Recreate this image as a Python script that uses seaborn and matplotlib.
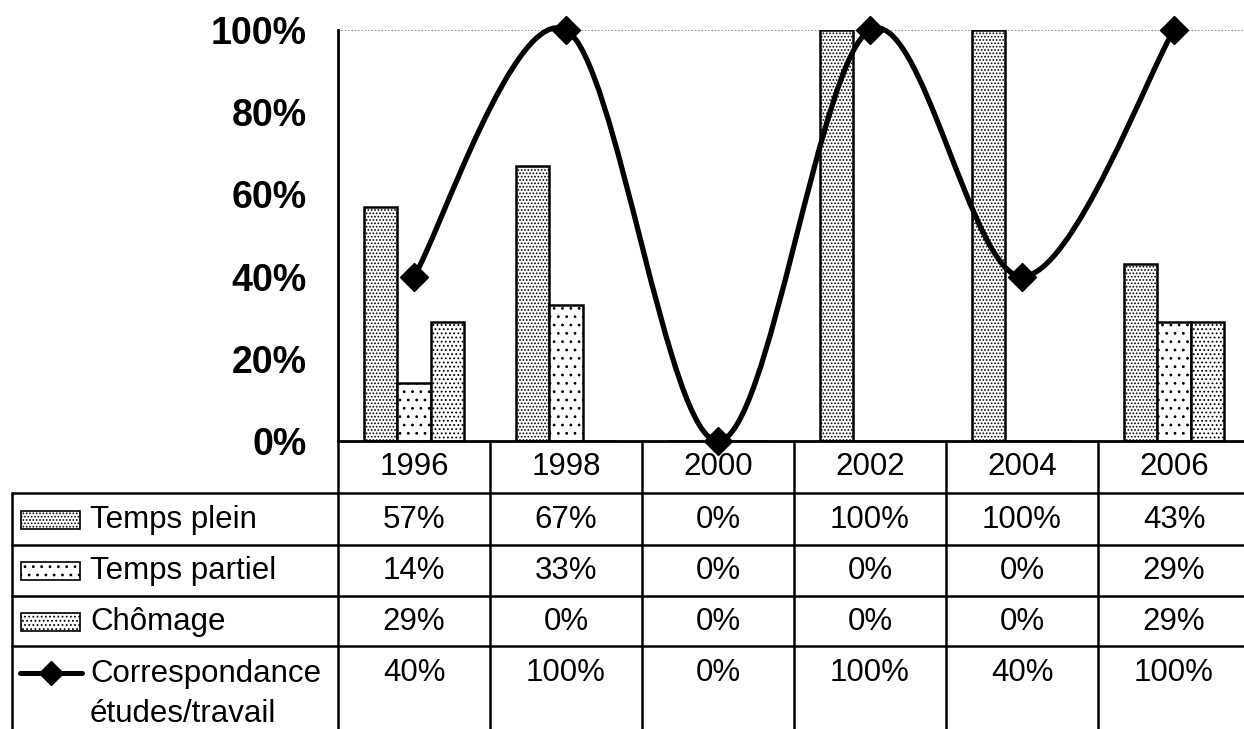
import numpy as np
import matplotlib
matplotlib.use("Agg")
import matplotlib.pyplot as plt
import seaborn as sns
import pandas as pd
from matplotlib.path import Path
from matplotlib.patches import PathPatch, Rectangle
from matplotlib.lines import Line2D
from matplotlib.transforms import blended_transform_factory
from matplotlib.ticker import MultipleLocator, PercentFormatter

# data
years = ["1996", "1998", "2000", "2002", "2004", "2006"]
temps_plein = [57, 67, 0, 100, 100, 43]
temps_partiel = [14, 33, 0, 0, 0, 29]
chomage = [29, 0, 0, 0, 0, 29]
correspondance = [40, 100, 0, 100, 40, 100]

series_names = ["Temps plein", "Temps partiel", "Chômage"]
line_lines = ["Correspondance", "études/travail"]
hatches = [".....", "..", "...."]

sns.set_style("white")
plt.rcParams["font.family"] = ["Liberation Sans", "DejaVu Sans"]
plt.rcParams["hatch.linewidth"] = 0.8
for k in ["text.color", "axes.labelcolor", "xtick.color", "ytick.color", "axes.edgecolor"]:
    plt.rcParams[k] = "black"

W, H = 1244, 729
fig = plt.figure(figsize=(W / 100, H / 100), dpi=100)

# axes in pixel positions (right edge runs past the picture like the original)
x0, x1, ytop, ybot = 338, 1250, 30, 441
ax = fig.add_axes([x0 / W, (H - ybot) / H, (x1 - x0) / W, (ybot - ytop) / H])

df = pd.DataFrame({
    "year": years * 3,
    "serie": np.repeat(series_names, len(years)),
    "value": np.array(temps_plein + temps_partiel + chomage) / 100,
})

sns.barplot(data=df, x="year", y="value", hue="serie", order=years,
            hue_order=series_names, width=0.66, gap=0,
            palette=["white"] * 3, edgecolor="black", linewidth=1.8,
            legend=False, ax=ax, zorder=2)
for cont, h in zip(ax.containers, hatches):
    for bar in cont:
        bar.set_hatch(h)

# smoothed line (Excel-like bezier through the points)
xs = np.arange(len(years), dtype=float)
ys = np.array(correspondance) / 100
pts = np.column_stack([xs, ys])
verts = [pts[0]]
codes = [Path.MOVETO]
n = len(pts)
for i in range(n - 1):
    p_prev = pts[max(i - 1, 0)]
    p_next2 = pts[min(i + 2, n - 1)]
    c1 = pts[i] + (pts[i + 1] - p_prev) / 6
    c2 = pts[i + 1] - (p_next2 - pts[i]) / 6
    verts += [c1, c2, pts[i + 1]]
    codes += [Path.CURVE4] * 3
ax.add_patch(PathPatch(Path(verts, codes), facecolor="none", edgecolor="black",
                       lw=3.8, zorder=4, clip_on=False))
ax.plot(xs, ys, linestyle="none", marker="D", markersize=14, color="black",
        zorder=5, clip_on=False)

ax.set_xlim(-0.5, len(years) - 0.5)
ax.set_ylim(0, 1)
ax.axhline(1.0, color="#808080", lw=1.2, ls=(0, (1, 1)), zorder=1)

for s in ["top", "right"]:
    ax.spines[s].set_visible(False)
ax.spines["left"].set_linewidth(2)
ax.spines["bottom"].set_linewidth(2)

ax.yaxis.set_major_locator(MultipleLocator(0.2))
ax.yaxis.set_minor_locator(MultipleLocator(0.05))
ax.yaxis.set_major_formatter(PercentFormatter(1.0, decimals=0))
ax.tick_params(axis="y", which="major", direction="inout", length=23, width=2,
               pad=11, labelsize=27, labelcolor="black")
ax.tick_params(axis="y", which="minor", direction="inout", length=16, width=2)
for lab in ax.get_yticklabels():
    lab.set_fontweight("bold")
ax.set_xticks([])
ax.set_xlabel("")
ax.set_ylabel("")

# data table below the plot
blend = blended_transform_factory(ax.transData, fig.transFigure)
fy = lambda py: (H - py) / H
fx = lambda px: px / W
lw_t = 1.8
row_lines = [493, 545, 596, 646]
for py in row_lines:
    fig.add_artist(Line2D([fx(12), 1.0], [fy(py), fy(py)], color="black", lw=lw_t))
fig.add_artist(Line2D([fx(12), fx(12)], [fy(493), 0], color="black", lw=lw_t))
for b in np.arange(-0.5, len(years) - 0.4, 1.0):
    ax.add_line(Line2D([b, b], [fy(441), 0], transform=blend, color="black",
                       lw=lw_t, clip_on=False))

fs = 22.5
for i, yr in enumerate(years):
    ax.text(i, fy(467), yr, transform=blend, ha="center", va="center", fontsize=fs)

rows = [temps_plein, temps_partiel, chomage]
row_centers = [520, 571, 622]
for vals, yc in zip(rows, row_centers):
    for i, v in enumerate(vals):
        ax.text(i, fy(yc), f"{v}%", transform=blend, ha="center", va="center", fontsize=fs)
for i, v in enumerate(correspondance):
    ax.text(i, fy(673), f"{v}%", transform=blend, ha="center", va="center", fontsize=fs)

for name, h, yc in zip(series_names, hatches, row_centers):
    fig.add_artist(Rectangle((fx(21), fy(yc + 9)), fx(80) - fx(21), 18 / H,
                             facecolor="white", edgecolor="black", lw=1.2,
                             hatch=h, transform=fig.transFigure))
    fig.text(fx(90), fy(yc), name, ha="left", va="center", fontsize=fs)

fig.add_artist(Line2D([fx(20), fx(82)], [fy(673), fy(673)], color="black", lw=3.6))
fig.add_artist(Line2D([fx(51)], [fy(673)], marker="D", markersize=12, color="black"))
fig.text(fx(90), fy(674), line_lines[0], ha="left", va="center", fontsize=fs)
fig.text(fx(90), fy(714), line_lines[1], ha="left", va="center", fontsize=fs)

fig.savefig("out.png", dpi=100)
